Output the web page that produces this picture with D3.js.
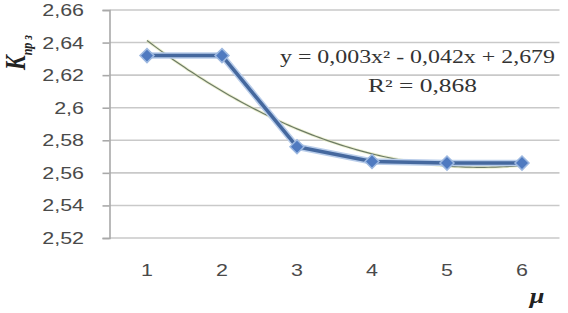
<!DOCTYPE html>
<html><head><meta charset="utf-8">
<script src="https://cdn.jsdelivr.net/npm/d3@7"></script>
<style>body{margin:0;background:#fff}svg{display:block}</style>
</head><body>
<svg id="c" width="568" height="313"></svg>
<script>
const categories = [1, 2, 3, 4, 5, 6];
const values = [2.632, 2.632, 2.576, 2.567, 2.566, 2.566];
const yTicks = [2.52, 2.54, 2.56, 2.58, 2.6, 2.62, 2.64, 2.66];
const equationText = "y = 0,003x\u00B2 - 0,042x + 2,679";
const r2Text = "R\u00B2 = 0,868";

const svg = d3.select("#c");
const W = 568, H = 313;
const m = {left: 109.5, right: 8.5, top: 10, bottom: 75};
const x = d3.scaleBand().domain(categories).range([m.left, W - m.right]);
const y = d3.scaleLinear().domain([2.52, 2.66]).range([H - m.bottom, m.top]);
const fmt = v => String(+v.toFixed(2)).replace(".", ",");

// gridlines
svg.append("g").selectAll("line").data(yTicks).join("line")
  .attr("x1", m.left).attr("x2", W - m.right)
  .attr("y1", d => y(d)).attr("y2", d => y(d))
  .attr("stroke", "#c9c9c9").attr("stroke-width", 1.6);

// y axis line and ticks
const ya = svg.append("g").attr("transform", `translate(${m.left},0)`)
  .call(d3.axisLeft(y).tickValues(yTicks).tickSize(7).tickFormat(""));
ya.select(".domain").attr("stroke", "#a9a9a9").attr("stroke-width", 1.6);
ya.selectAll(".tick line").attr("stroke", "#a9a9a9").attr("stroke-width", 1.6);

// y tick labels
svg.append("g").selectAll("text").data(yTicks).join("text")
  .attr("transform", d => `translate(84,${y(d)}) scale(1.3,1)`)
  .attr("text-anchor", "end").attr("dy", "0.36em")
  .attr("font-family", "Liberation Sans, Arial, sans-serif")
  .attr("font-size", 16.5).attr("fill", "#4a4a4a")
  .text(d => fmt(d));

// x labels
svg.append("g").selectAll("text").data(categories).join("text")
  .attr("transform", d => `translate(${x(d) + x.bandwidth() / 2},270) scale(1.3,1)`)
  .attr("text-anchor", "middle").attr("dy", "0.36em")
  .attr("font-family", "Liberation Sans, Arial, sans-serif")
  .attr("font-size", 16.5).attr("fill", "#4a4a4a")
  .text(d => d);

// quadratic least-squares trend computed from the data
function quadFit(xs, ys) {
  const n = xs.length;
  let S = [0,0,0,0,0], T = [0,0,0];
  for (let i = 0; i < n; i++) {
    let p = 1;
    for (let k = 0; k < 5; k++) { S[k] += p; if (k < 3) T[k] += p * ys[i]; p *= xs[i]; }
  }
  const A = [[S[0],S[1],S[2],T[0]],[S[1],S[2],S[3],T[1]],[S[2],S[3],S[4],T[2]]];
  for (let i = 0; i < 3; i++) {
    for (let j = i + 1; j < 3; j++) {
      const f = A[j][i] / A[i][i];
      for (let k = i; k < 4; k++) A[j][k] -= f * A[i][k];
    }
  }
  const c = [0,0,0];
  for (let i = 2; i >= 0; i--) {
    let s = A[i][3];
    for (let k = i + 1; k < 3; k++) s -= A[i][k] * c[k];
    c[i] = s / A[i][i];
  }
  return t => c[0] + c[1] * t + c[2] * t * t;
}
const f = quadFit(categories, values);
const cx = d => x(d) + x.bandwidth() / 2;
const xl = d3.scaleLinear().domain([1, 6]).range([cx(1), cx(6)]);
const trend = d3.range(1, 6.001, 0.05).map(t => [xl(t), y(f(t))]);
svg.append("path").attr("d", d3.line()(trend))
  .attr("fill", "none").attr("stroke", "#dfe6b0").attr("stroke-width", 3).attr("opacity", 0.6);
svg.append("path").attr("d", d3.line()(trend))
  .attr("fill", "none").attr("stroke", "#6c7a66").attr("stroke-width", 1.2);

// series
const line = d3.line().x((d, i) => cx(categories[i])).y(d => y(d));
svg.append("path").datum(values).attr("d", line)
  .attr("fill", "none").attr("stroke", "#b9cdea").attr("stroke-width", 6.5).attr("stroke-linejoin", "round");
svg.append("path").datum(values).attr("d", line)
  .attr("fill", "none").attr("stroke", "#45689e").attr("stroke-width", 3.5).attr("stroke-linejoin", "round");
const sym = d3.symbol().type(d3.symbolDiamond2).size(125);
svg.append("g").selectAll("path").data(values).join("path")
  .attr("transform", (d, i) => `translate(${cx(categories[i])},${y(d)})`)
  .attr("d", sym).attr("fill", "#4f7ac0").attr("stroke", "#9db8e0").attr("stroke-width", 1.5);

// equation
svg.append("text").attr("x", 280).attr("y", 63)
  .attr("textLength", 275).attr("lengthAdjust", "spacingAndGlyphs")
  .attr("font-family", "Liberation Serif, Times New Roman, serif")
  .attr("font-size", 18).attr("fill", "#333").text(equationText);
svg.append("text").attr("x", 368).attr("y", 92)
  .attr("textLength", 109).attr("lengthAdjust", "spacingAndGlyphs")
  .attr("font-family", "Liberation Serif, Times New Roman, serif")
  .attr("font-size", 18).attr("fill", "#333").text(r2Text);

// y axis title
const yt = svg.append("text")
  .attr("transform", "translate(25,70) rotate(-90) scale(1,1.3)")
  .attr("font-family", "Liberation Serif, Times New Roman, serif")
  .attr("font-style", "italic").attr("font-weight", "bold").attr("fill", "#222");
yt.append("tspan").attr("font-size", 22).text("K");
yt.append("tspan").attr("font-size", 12).attr("dy", 5).text("пр з");

// x axis title
svg.append("text").attr("transform", "translate(537,303) scale(1.2,1)")
  .attr("text-anchor", "middle")
  .attr("font-family", "Liberation Serif, Times New Roman, serif")
  .attr("font-style", "italic").attr("font-weight", "bold")
  .attr("font-size", 22).attr("fill", "#222").text("\u03BC");
</script>
</body></html>
